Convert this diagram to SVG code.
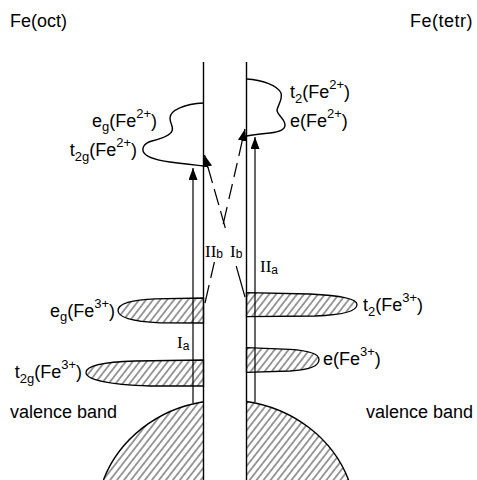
<svg xmlns="http://www.w3.org/2000/svg" width="477" height="480" viewBox="0 0 477 480">
<style>
.t{font-family:"Liberation Sans",Arial,sans-serif;font-size:18px;fill:#000}
.s{font-size:13px}
.r{font-family:"Liberation Serif","Times New Roman",serif;font-size:17px;fill:#000}
.rs{font-family:"Liberation Sans",Arial,sans-serif;font-size:12px}
.ln{fill:none;stroke:#000;stroke-width:1.4}
.th{fill:none;stroke:#000;stroke-width:1.2}
.band{fill:url(#hatch);stroke:#000;stroke-width:1.3}
.dash{fill:none;stroke:#000;stroke-width:1.2}
</style>
<defs>
<pattern id="hatch" patternUnits="userSpaceOnUse" width="5.5" height="10" patternTransform="rotate(38)">
<line x1="2.75" y1="-1" x2="2.75" y2="11" stroke="#000" stroke-width="0.8"/>
</pattern>
<marker id="ah" markerUnits="userSpaceOnUse" markerWidth="13" markerHeight="9" refX="12" refY="4.5" orient="auto">
<path d="M0,0 L12,4.5 L0,9 Z" fill="#000"/>
</marker>
</defs>
<rect width="477" height="480" fill="#fff"/>

<g id="valence-left">
<path d="M203.5,401.8 A130,120 0 0,0 103.4,480 L203.5,480 Z" fill="url(#hatch)"/>
<path d="M203.5,401.8 A130,120 0 0,0 103.4,480" class="ln"/>
</g>
<g id="valence-right">
<path d="M246.5,401.5 A130,120 0 0,1 348.6,480 L246.5,480 Z" fill="url(#hatch)"/>
<path d="M246.5,401.5 A130,120 0 0,1 348.6,480" class="ln"/>
</g>

<g id="eg-fe3">
<path class="band" d="M203.5,298 L155,298.8 C132,299.5 118,304 118,310.5 C118,317 132,321.5 160,322.8 L203.5,323 Z"/>
</g>
<g id="t2g-fe3">
<path class="band" d="M203.5,360 L135,361 C103,362 86,366 86,372.5 C86,379.5 108,384.5 150,386 L203.5,386 Z"/>
</g>
<g id="t2-fe3">
<path class="band" d="M246.5,292.7 L310,294 C342,295.5 357,299 357,304.5 C357,311 343,315 315,316 L246.5,316.7 Z"/>
</g>
<g id="e-fe3">
<path class="band" d="M246.5,347.7 L290,349.3 C309,350.5 319,354 319,359.5 C319,366 309,370 290,371 L246.5,372.3 Z"/>
</g>

<g id="eg-t2g-fe2">
<path class="ln" d="M203.5,103 C185,104 170,110 170,118 C170,124 174,127 172,131 C170,136 160,139 152,141 C144,143 142,148 143,151 C145,157 155,160 170,162 C185,164 195,165 203.5,166"/>
</g>
<g id="t2-e-fe2">
<path class="ln" d="M246.5,79 C262,80 277,85 281,93 C283,99 278,105 277,110 C277,115 285,119 285,125 C285,130 280,132 270,133 C260,134 252,135 246.5,136"/>
</g>

<g id="axes">
<line class="ln" x1="203.5" y1="62" x2="203.5" y2="480"/>
<line class="ln" x1="246.5" y1="62" x2="246.5" y2="480"/>
</g>

<g id="connectors">
<line class="th" x1="193" y1="403" x2="193" y2="168" marker-end="url(#ah)"/>
<line class="th" x1="255" y1="402" x2="255" y2="137" marker-end="url(#ah)"/>
<line x1="208" y1="168" x2="204.5" y2="155" stroke="#000" stroke-width="1.2" marker-end="url(#ah)"/>
<path class="dash" d="M207.9,167 L212.5,183 M214.2,189 L218.8,205 M220.5,211 L225.3,228 M236.2,266 L245,297"/>
<line x1="242.3" y1="141" x2="245" y2="129" stroke="#000" stroke-width="1.2" marker-end="url(#ah)"/>
<path class="dash" d="M242.2,141 L238.8,156 M237.2,163 L234,177 M232.4,184 L228.9,199 M227.1,207 L223.2,224 M214.4,262 L210.7,278 M209.1,285 L205,303"/>
</g>

<g id="labels">
<text class="t" x="10" y="27">Fe(oct)</text>
<text class="t" x="410" y="27" letter-spacing="0.5">Fe(tetr)</text>
<text class="t" x="290" y="98">t<tspan class="s" dy="5">2</tspan><tspan dy="-5">(Fe</tspan><tspan class="s" dy="-9">2+</tspan><tspan dy="9">)</tspan></text>
<text class="t" x="290" y="127">e(Fe<tspan class="s" dy="-9">2+</tspan><tspan dy="9">)</tspan></text>
<text class="t" x="157" y="127" text-anchor="end">e<tspan class="s" dy="4">g</tspan><tspan dy="-4">(Fe</tspan><tspan class="s" dy="-9">2+</tspan><tspan dy="9">)</tspan></text>
<text class="t" x="137" y="156" text-anchor="end">t<tspan class="s" dy="5">2g</tspan><tspan dy="-5">(Fe</tspan><tspan class="s" dy="-9">2+</tspan><tspan dy="9">)</tspan></text>
<text class="t" x="115" y="317" text-anchor="end">e<tspan class="s" dy="4">g</tspan><tspan dy="-4">(Fe</tspan><tspan class="s" dy="-9">3+</tspan><tspan dy="9">)</tspan></text>
<text class="t" x="82" y="378" text-anchor="end">t<tspan class="s" dy="5">2g</tspan><tspan dy="-5">(Fe</tspan><tspan class="s" dy="-9">3+</tspan><tspan dy="9">)</tspan></text>
<text class="t" x="363" y="311">t<tspan class="s" dy="5">2</tspan><tspan dy="-5">(Fe</tspan><tspan class="s" dy="-9">3+</tspan><tspan dy="9">)</tspan></text>
<text class="t" x="323" y="365">e(Fe<tspan class="s" dy="-9">3+</tspan><tspan dy="9">)</tspan></text>
<text class="t" x="10" y="418">valence band</text>
<text class="t" x="366" y="418">valence band</text>
<text class="r" x="205" y="257">II<tspan class="rs" dy="1">b</tspan></text>
<text class="r" x="230" y="257">I<tspan class="rs" dy="1">b</tspan></text>
<text class="r" x="260" y="272">II<tspan class="rs" dy="2">a</tspan></text>
<text class="r" x="177" y="348">I<tspan class="rs" dy="2">a</tspan></text>
</g>
</svg>
